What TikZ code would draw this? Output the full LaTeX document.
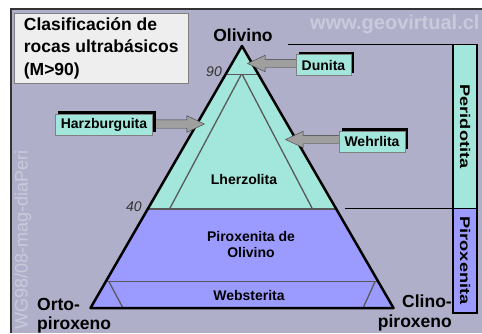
\documentclass[tikz,border=0pt]{standalone}
\usepackage{fontspec}
\setmainfont{Liberation Sans}
\usetikzlibrary{calc,shapes.arrows,shadows}

\definecolor{fondo}{HTML}{AFAFC9}
\definecolor{menta}{HTML}{A3E6DB}
\definecolor{lila}{HTML}{9B9BFF}
\definecolor{marco}{HTML}{333333}
\definecolor{tenue}{HTML}{CACADD}
\definecolor{blanco}{HTML}{EEEEEE}

\tikzset{
  grande/.style={font=\fontsize{17.5}{19.5}\selectfont\bfseries, inner sep=0pt},
  chico/.style={font=\fontsize{14}{15.5}\selectfont\bfseries, inner sep=0pt},
  numero/.style={font=\fontsize{14}{14}\selectfont\itshape, text=marco, inner sep=0pt},
  caja/.style={chico, fill=menta, draw=gray, thin, inner xsep=5.5pt, minimum height=21pt,
    drop shadow={shadow xshift=3pt, shadow yshift=3pt, fill=black, opacity=1}},
  flecha/.style={single arrow, fill=gray!75, draw=gray!50!black, thin, inner sep=4pt,
    single arrow head extend=4pt, single arrow tip angle=50, anchor=tip},
  linea/.style={gray!70!black, line width=1.3pt},
  barra/.style={font=\fontsize{14}{14}\selectfont\bfseries, rotate=-90, xscale=1.3}
}

\begin{document}
\begin{tikzpicture}[x=1pt,y=-1pt]
  \useasboundingbox (0,0) rectangle (482,333);
  \fill[white] (0,0) rectangle (482,333);
  \fill[fondo] (11,9) rectangle (482,333);
  \draw[marco, line width=2pt] (11,333) -- (11,9) -- (482,9);

  \begin{scope}
    \clip (11,9) rectangle (482,333);
    \node[font=\fontsize{20}{20}\selectfont\bfseries, text=tenue, anchor=west, inner sep=0pt] (web) at (310,24) {www.geovirtual.cl};
    \node[font=\fontsize{18}{18}\selectfont, text=tenue, rotate=90, anchor=east, inner sep=0pt] (codigo) at (23,150) {WG98/08-mag-diaPeri};
  \end{scope}

  \node[grande, fill=blanco, draw=gray, anchor=north west, align=left, minimum width=174pt, minimum height=70pt,
    font=\fontsize{17.5}{22.5}\selectfont\bfseries] (titulo) at (14,13) {Clasificación de\\rocas ultrabásicos\\(M>90)};

  \coordinate (A) at (242,46);
  \coordinate (L) at (90.5,308);
  \coordinate (R) at (393.5,308);
  \coordinate (n90l) at ($(A)!0.11!(L)$);
  \coordinate (n90r) at ($(A)!0.11!(R)$);
  \coordinate (n40l) at ($(A)!0.622!(L)$);
  \coordinate (n40r) at ($(A)!0.622!(R)$);
  \coordinate (n10l) at ($(A)!0.9!(L)$);
  \coordinate (n10r) at ($(A)!0.9!(R)$);

  \fill[menta] (A) -- (n40l) -- (n40r) -- cycle;
  \fill[lila] (n40l) -- (L) -- (R) -- (n40r) -- cycle;

  \draw[linea] (n90l) -- (n90r) (n40l) -- (n40r) (n10l) -- (n10r);
  \draw[linea] (241,75) -- (169.5,209) (242.5,75) -- (312.5,209);
  \draw[linea] (109,281.8) -- (123,308) (375,281.8) -- (363,308);
  \draw[line width=2.5pt, line join=round] (A) -- (L) -- (R) -- cycle;

  \node[grande] (olivino) at (243,35) {Olivino};
  \node[grande, align=left, anchor=west] (orto) at (37,315.5) {Orto-\\piroxeno};
  \node[grande, align=right, anchor=east] (clino) at (452,313) {Clino-\\piroxeno};

  \node[chico] (lherzolita) at (244,179) {Lherzolita};
  \node[chico, align=center] (piroxol) at (251,244.5) {Piroxenita de\\Olivino};
  \node[chico] (websterita) at (249,295.5) {Websterita};

  \node[numero] (noventa) at (214,72) {90};
  \node[numero] (cuarenta) at (134,207) {40};

  \coordinate (pdun) at (247,63.5);
  \coordinate (pharz) at (205,124);
  \coordinate (pwehr) at (285,139.5);
  \node[flecha, rotate=180, minimum height=49pt] (fdun) at (pdun) {};
  \node[flecha, minimum height=50pt] (fharz) at (pharz) {};
  \node[flecha, rotate=180, minimum height=55pt] (fwehr) at (pwehr) {};

  \node[caja] (dunita) at (323.5,65) {Dunita};
  \node[caja] (harz) at (104,124.5) {Harzburguita};
  \node[caja] (wehrlita) at (372,141.5) {Wehrlita};

  \draw[line width=1.8pt] (288,44.5) -- (477,44.5);
  \draw[line width=1.8pt] (345,208.5) -- (453,208.5);
  \filldraw[fill=menta, line width=1.5pt] (453,44.5) rectangle (477,208.5);
  \filldraw[fill=lila, line width=1.5pt] (453,208.5) rectangle (477,313);
  \node[barra] (peridotita) at (465,126.5) {Peridotita};
  \node[barra] (piroxenita) at (465,260.5) {Piroxenita};
\end{tikzpicture}
\end{document}
